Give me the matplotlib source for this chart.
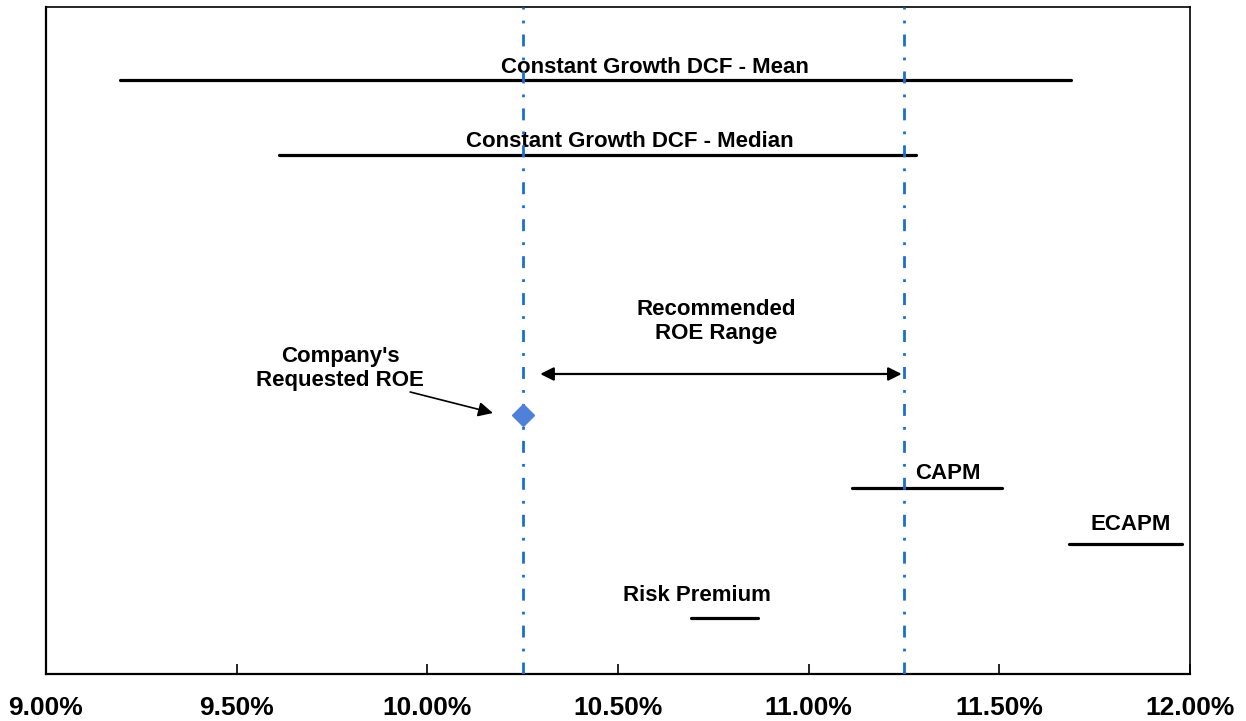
import numpy as np
import matplotlib.pyplot as plt
from matplotlib.ticker import FuncFormatter

plt.rcParams['font.family'] = ['Liberation Sans', 'DejaVu Sans']

# ranges (ROE %), y level on a 0-10 scale
range_names = ['Constant Growth DCF - Mean', 'Constant Growth DCF - Median', 'CAPM', 'ECAPM', 'Risk Premium']
range_lo = [9.194, 9.611, 11.114, 11.683, 10.692]
range_hi = [11.688, 11.282, 11.507, 11.979, 10.867]
range_y = [8.906, 7.781, 2.789, 1.949, 0.840]
label_x = [10.597, 10.532, 11.279, 11.738, 10.707]
label_y = [9.10, 7.99, 3.01, 2.24, 1.17]
label_ha = ['center', 'center', 'left', 'left', 'center']

requested_roe = 10.25
requested_y = 3.883
rec_lo, rec_hi = 10.25, 11.25
rec_arrow_y = 4.498

fig = plt.figure(figsize=(12.46, 7.21), dpi=100)
ax = fig.add_axes([46/1246, (721-674)/721, (1190-46)/1246, (674-7)/721])

for lo, hi, y in zip(range_lo, range_hi, range_y):
    ax.plot([lo, hi], [y, y], color='black', lw=2.3, solid_capstyle='round', zorder=3)
for name, x, y, ha in zip(range_names, label_x, label_y, label_ha):
    ax.text(x, y, name, ha=ha, va='center', fontsize=16, fontweight='bold')

# recommended range boundaries
for xv in [rec_lo, rec_hi]:
    ax.axvline(xv, color='#1a6fd0', lw=2, ls=(0, (4.3, 4.0, 1.0, 4.0)), zorder=4)

ax.annotate('', xy=(rec_hi - 0.006, rec_arrow_y), xytext=(rec_lo + 0.046, rec_arrow_y),
            arrowprops=dict(arrowstyle='<|-|>', color='black', lw=1.6, mutation_scale=20,
                            shrinkA=0, shrinkB=0))
ax.text(10.757, 5.29, 'Recommended\nROE Range', ha='center', va='center',
        fontsize=16, fontweight='bold', linespacing=1.2)

ax.plot([requested_roe], [requested_y], marker='D', color='#4f81d8', markersize=11, zorder=5)
ax.text(9.771, 4.58, "Company's\nRequested ROE", ha='center', va='center',
        fontsize=16, fontweight='bold', linespacing=1.2)
ax.annotate('', xy=(10.172, 3.913), xytext=(9.955, 4.228),
            arrowprops=dict(arrowstyle='-|>', color='black', lw=1.2, mutation_scale=22,
                            shrinkA=0, shrinkB=0))

ax.set_xlim(9.0, 12.0)
ax.set_ylim(0, 10)
ax.set_xticks(np.arange(9.0, 12.01, 0.5))
ax.xaxis.set_major_formatter(FuncFormatter(lambda v, p: '{:.2f}%'.format(v)))
ax.tick_params(axis='x', direction='in', length=7, width=1.2, labelsize=19, pad=16)
for lab in ax.get_xticklabels():
    lab.set_fontweight('bold')
ax.set_yticks([])
for s in ax.spines.values():
    s.set_linewidth(1.2)
ax.spines['left'].set_linewidth(1.6)
ax.spines['bottom'].set_linewidth(1.6)

plt.savefig('out.png')
